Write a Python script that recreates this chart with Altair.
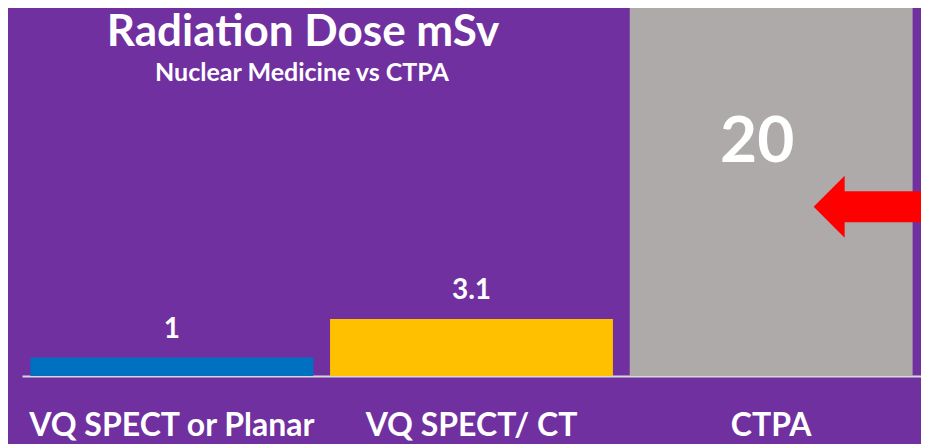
import altair as alt
import pandas as pd

categories = ["VQ SPECT or Planar", "VQ SPECT/ CT", "CTPA"]
doses = [1, 3.1, 20]
labels = ["1", "3.1", "20"]
colors = ["#0070C0", "#FFC000", "#AEAAAA"]
title_text = ["Radiation Dose mSv"]
subtitle_text = ["Nuclear Medicine vs CTPA"]

df = pd.DataFrame({"cat": categories, "dose": doses, "label": labels, "color": colors})

FONT = "Lato"
PW, PH = 899, 368

x_enc = alt.X(
    "cat:N",
    sort=categories,
    scale=alt.Scale(paddingInner=0.056, paddingOuter=0.028),
    axis=alt.Axis(
        title=None, ticks=False, labelAngle=0, labelFontSize=32, labelFont=FONT,
        labelFontWeight="bold", labelColor="white", labelPadding=59,
        labelBaseline="alphabetic", labelLimit=0, labelOverlap=False,
        domainColor="#D9D9D9", domainWidth=2, grid=False,
    ),
)
y_enc = alt.Y("dose:Q", scale=alt.Scale(domain=[0, 20], nice=False), axis=None)

bars = alt.Chart(df).mark_bar().encode(
    x=x_enc, y=y_enc, color=alt.Color("color:N", scale=None)
)

small = alt.Chart(df).transform_filter(alt.datum.dose < 10).mark_text(
    font=FONT, fontSize=28, fontWeight="bold", color="white", baseline="alphabetic", dy=-20
).encode(x=alt.X("cat:N", sort=categories), y="dose:Q", text="label:N")

big = alt.Chart(df).transform_filter(alt.datum.dose >= 10).mark_text(
    font=FONT, fontSize=64, fontWeight="bold", color="white", baseline="alphabetic", dy=154, dx=-14
).encode(x=alt.X("cat:N", sort=categories), y="dose:Q", text="label:N")

arrow_df = pd.DataFrame({"cat": ["CTPA"], "pos": [9.2]})
arrow = alt.Chart(arrow_df).mark_point(
    shape="M -1 0 L -0.461 -0.539 L -0.461 -0.27 L 1 -0.27 L 1 0.27 L -0.461 0.27 L -0.461 0.539 Z",
    size=13225, filled=True, color="#FF0000", opacity=1, strokeWidth=0, xOffset=100,
).encode(x=alt.X("cat:N", sort=categories), y=alt.Y("pos:Q"))

title = alt.Chart(pd.DataFrame({"t": title_text})).mark_text(
    font=FONT, fontSize=44, fontWeight="bold", color="white", baseline="alphabetic", align="center"
).encode(x=alt.value(281), y=alt.value(38), text="t:N")

subtitle = alt.Chart(pd.DataFrame({"t": subtitle_text})).mark_text(
    font=FONT, fontSize=25, fontWeight="bold", color="white", baseline="alphabetic", align="center"
).encode(x=alt.value(280), y=alt.value(73), text="t:N")

chart = alt.layer(bars, small, big, arrow, title, subtitle).properties(
    width=PW, height=PH,
    background="#7030A0",
    padding={"left": 14, "top": 0, "right": 0, "bottom": 68},
    autosize=alt.AutoSizeParams(type="none"),
).configure_view(stroke=None)

chart.save("out.html", embed_options={"renderer": "svg", "actions": False})
